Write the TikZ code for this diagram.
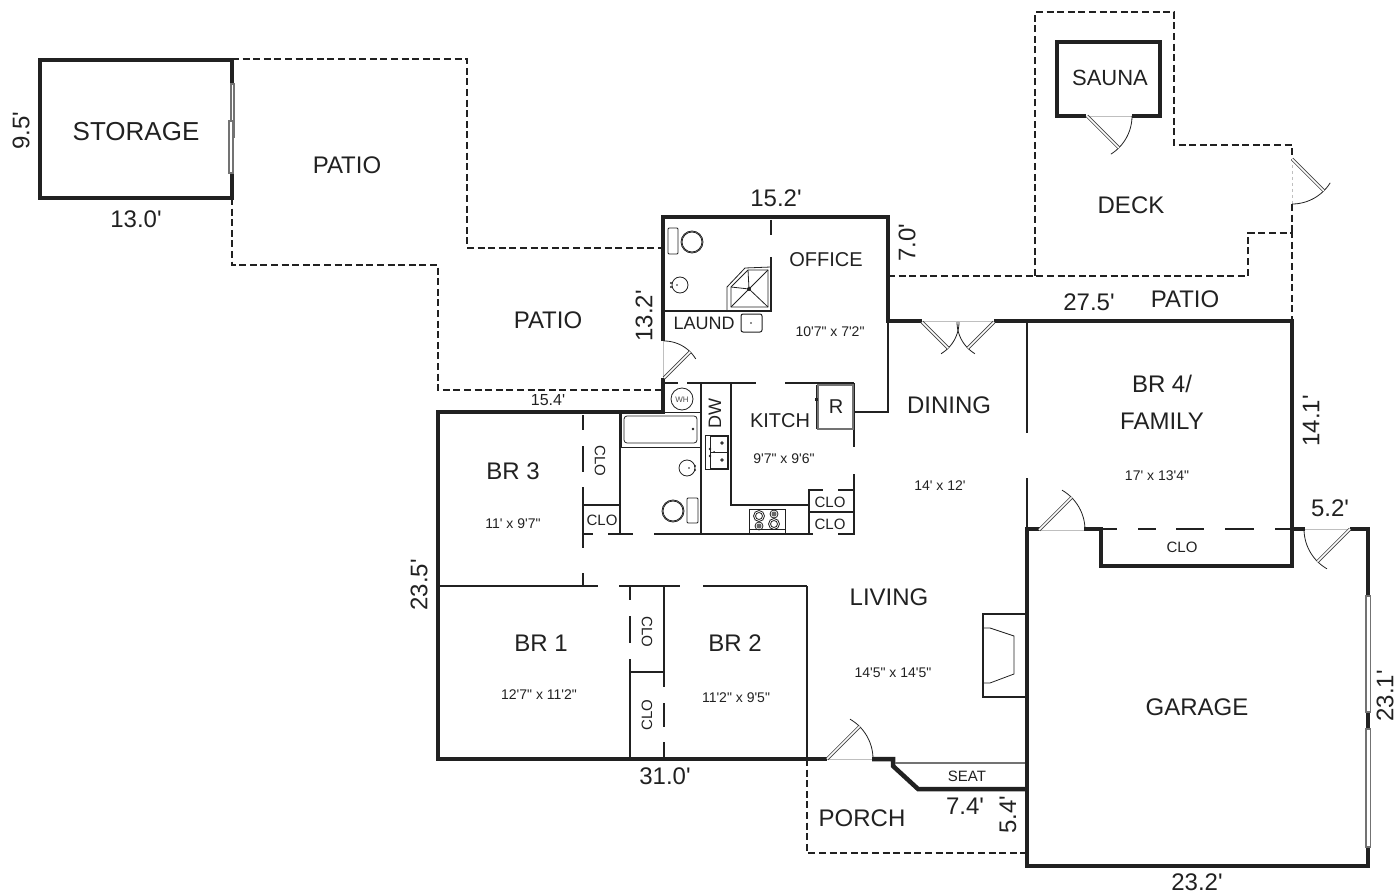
\documentclass[tikz,border=0pt]{standalone}
\usepackage{fontspec}
\newfontfamily\planfont{Liberation Sans}
\AtBeginDocument{\planfont}
\usepackage{xcolor}
\usetikzlibrary{calc}

\definecolor{inkblack}{gray}{0.13}
\tikzset{
  thickwall/.style={draw=inkblack, line width=4.5pt, line join=miter},
  thinwall/.style={draw=inkblack, line width=2.6pt},
  hairwall/.style={draw=inkblack, line width=1.1pt},
  fixture/.style={draw=inkblack, line width=0.8pt},
  outdoor/.style={draw=inkblack, line width=2.4pt, dash pattern=on 7pt off 3.6pt},
  leaf/.style={draw=black!75, line width=0.8pt, double=white, double distance=1.6pt},
  sill/.style={draw=black!25, line width=0.8pt},
  glazing/.style={draw=black!55, line width=1.2pt, fill=white},
  roomname/.style={text=inkblack, font=\fontsize{24}{28}\selectfont},
  sizetext/.style={text=inkblack, font=\fontsize{14}{17}\selectfont},
  clotext/.style={text=inkblack, font=\fontsize{15}{18}\selectfont}
}
% hinge x, hinge y, leaf angle, arc start, arc end, radius
\newcommand{\doorswing}[6]{
  \draw[fixture] plot[domain=#4:#5, samples=24, smooth] ({#1+#6*cos(\x)},{#2+#6*sin(\x)});
  \draw[leaf] (#1,#2) -- ++(#3:#6);
}

\begin{document}
\begin{tikzpicture}[x=1pt, y=-1pt]
    \useasboundingbox (0,0) rectangle (1398,896);

    % Outdoor areas
    \draw[outdoor] (232,59) -- (467,59) -- (467,248) -- (663,248);
    \draw[outdoor] (232,198) -- (232,265) -- (438,265) -- (438,390) -- (663,390);
    \draw[outdoor] (888,276) -- (1248,276) -- (1248,233) -- (1292,233) -- (1292,321);
    \draw[outdoor] (1035,276) -- (1035,12) -- (1174,12) -- (1174,145) -- (1292,145) -- (1292,159);
    \draw[outdoor] (1292,204) -- (1292,233);
    \draw[outdoor] (807,759) -- (807,853) -- (1027,853);

    % Storage
    \draw[thickwall] (40,60) rectangle (232,198);
    \draw[glazing] (231,84) rectangle (234,137);
    \draw[glazing] (229,121) rectangle (233,173);

    % Sauna
    \draw[thickwall] (1086,116) -- (1057,116) -- (1057,42) -- (1160,42) -- (1160,116) -- (1132,116);

    % Outer walls
    \draw[thickwall] (663,341) -- (663,217) -- (888,217) -- (888,276);
    \draw[thickwall] (888,276) -- (888,321) -- (922,321);
    \draw[thickwall] (994,321) -- (1292,321) -- (1292,566) -- (1101,566) -- (1101,529) -- (1084,529);
    \draw[thickwall] (1040,529) -- (1027,529) -- (1027,866) -- (1368,866) -- (1368,847);
    \draw[thickwall] (1368,596) -- (1368,529) -- (1350,529);
    \draw[thickwall] (1305,529) -- (1292,529);
    \draw[thickwall] (663,378) -- (663,412) -- (438,412) -- (438,759) -- (827,759);
    \draw[thickwall] (872,759) -- (893,759) -- (893,766) -- (918,789) -- (1027,789);
    \draw[thickwall] (1368,712) -- (1368,729);

    % Garage windows
    \draw[glazing] (1366,596) rectangle (1370.5,712);
    \draw[glazing] (1366,729) rectangle (1370.5,847);

    % Closet front at garage
    \foreach \xa/\xb in {1103/1117,1138/1156,1176/1204,1225/1254,1275/1292}
        \draw[thinwall] (\xa,529) -- (\xb,529);

    % Inner walls
    \foreach \xa/\xb in {665/678,687/756,785/854}
        \draw[thinwall] (\xa,383) -- (\xb,383);
    \foreach \xa/\xb in {583/593,608/633,654/813,838/854}
        \draw[thinwall] (\xa,534) -- (\xb,534);
    \foreach \xa/\xb in {438/598,619/680,703/807}
        \draw[thinwall] (\xa,586) -- (\xb,586);
    \foreach \ya/\yb in {415/430,446/472,487/548,573/586}
        \draw[thinwall] (583,\ya) -- (583,\yb);
    \foreach \ya/\yb in {586/600,616/643,659/759}
        \draw[thinwall] (630,\ya) -- (630,\yb);
    \foreach \ya/\yb in {586/687,703/727,742/759}
        \draw[thinwall] (664,\ya) -- (664,\yb);
    \draw[thinwall] (630,672) -- (664,672);
    \draw[thinwall] (807,586) -- (807,759);
    \draw[thinwall] (771,220) -- (771,235);
    \draw[thinwall] (771,257) -- (771,311) -- (664,311);
    \draw[thinwall] (888,321) -- (888,412) -- (854,412);
    \draw[thinwall] (854,383) -- (854,447);
    \draw[thinwall] (854,474) -- (854,535);
    \draw[thinwall] (620,412) -- (620,534);
    \draw[thinwall] (583,505) -- (620,505);
    \draw[thinwall] (701,383) -- (701,534);
    \draw[thinwall] (731,383) -- (731,505) -- (809,505);
    \draw[thinwall] (809,534) -- (809,490) -- (823,490);
    \draw[thinwall] (838,490) -- (854,490);
    \draw[thinwall] (809,512) -- (854,512);
    \draw[thinwall] (1027,321) -- (1027,433);
    \draw[thinwall] (1027,478) -- (1027,530);
    \draw[sill, line width=1.2pt, draw=black!55] (895,763) -- (1025,763);

    % Fireplace
    \draw[hairwall] (1027,614) -- (983,614) -- (983,697) -- (1027,697);
    \draw[fixture] (983,628) -- (990,628) -- (1014,636) -- (1014,674) -- (990,683) -- (983,683);

    % Doors
    \draw[sill] (1087,116) -- (1132,116);
    \doorswing{1087}{116}{45}{0}{58}{45}
    \draw[sill, dashed] (1292,159) -- (1292,204);
    \doorswing{1292}{159}{45}{90}{32}{45}
    \draw[sill] (663,341) -- (663,378);
    \doorswing{664}{378}{-45}{-90}{-31}{37}
    \draw[sill] (922,321) -- (994,321);
    \doorswing{922}{322}{45}{0}{59}{37}
    \doorswing{994}{322}{135}{180}{121}{37}
    \draw[sill] (1040,530) -- (1084,530);
    \doorswing{1039}{530}{-45}{0}{-60}{46}
    \draw[sill] (1305,529) -- (1350,529);
    \doorswing{1350}{529}{135}{180}{120}{46}
    \draw[sill] (827,759) -- (872,759);
    \doorswing{827}{759}{-45}{0}{-60}{46}

    % Office bath
    \draw[fixture, rounded corners=1pt] (668,228) rectangle (678,254);
    \draw[fixture] (692,242) circle (11);
    \draw[fixture] (692,242) circle (10);
    \draw[fixture] (680,285) circle (8);
    \fill[inkblack] (671,283) circle (1.2) (671,287) circle (1.2) (677,285) circle (0.8);
    \draw[fixture] (748,270) -- (768,270) -- (768,307) -- (731,307) -- (731,287) -- cycle;
    \draw[fixture] (727,311) -- (727,287) -- (745,268) -- (771,267);
    \draw[fixture] (731,307) -- (768,270);
    \draw[fixture] (748,270) -- (749,289) -- (768,307);
    \draw[fixture] (731,287) -- (749,289);
    \fill[inkblack] (749,289) circle (2);
    \draw[fixture, rounded corners=2pt, line width=1pt] (741,314) rectangle (762,332);
    \fill[inkblack] (751,323) circle (0.9);

    % Water heater
    \draw[fixture] (682,399) circle (11);
    \node[text=black!70, font=\fontsize{8}{9}\selectfont] (wh) at (682,400) {WH};

    % Hall bath
    \draw[fixture] (621,412) rectangle (701,447);
    \draw[fixture, rounded corners=3pt] (624,416) rectangle (697,443);
    \fill[inkblack] (693,429) circle (1.4);
    \draw[fixture] (687,468) circle (8);
    \fill[inkblack] (695,466) circle (1.2) (695,470) circle (1.2) (689,468) circle (0.8);
    \draw[fixture, rounded corners=1pt] (687,498) rectangle (698,523);
    \draw[fixture] (673,511) circle (11);
    \draw[fixture] (673,511) circle (10);

    % Kitchen
    \draw[fixture] (705,435) rectangle (728,469);
    \draw[fixture] (710,436) rectangle (727,452);
    \draw[fixture] (710,452) rectangle (727,468);
    \fill[inkblack] (710,449) circle (1.4) (710,456) circle (1.4) (714,452) circle (1);
    \draw[fixture] (722,443) circle (1.2);
    \draw[fixture] (722,460) circle (1.2);
    \draw[fixture] (749,509) rectangle (785,533);
    \draw[fixture] (749,529) -- (785,529);
    \foreach \px/\py/\rad in {759/516/5.5,774/524/5.5} {
        \draw[fixture] (\px,\py) circle (\rad);
        \draw[fixture] (\px,\py) circle (\rad-2);
    }
    \foreach \px/\py in {774/514,759/526} {
        \draw[fixture] (\px,\py) circle (4);
        \fill[black!60] (\px,\py) circle (2.5);
    }
    \draw[fixture, line width=1.1pt, draw=black!55] (818,385) rectangle (853,429);
    \draw[fixture] (816,385) -- (816,429);
    \fill[inkblack] (815,398) rectangle (818,401);

    % Labels outside
    \node[roomname, rotate=90] (dimstoragea) at (21,131) {9.5'};
    \node[text=inkblack, font=\fontsize{26}{30}\selectfont] (storage) at (136,132) {STORAGE};
    \node[roomname] (dimstorageb) at (136,219) {13.0'};
    \node[roomname] (patioa) at (347,165) {PATIO};
    \node[roomname] (patiob) at (548,320) {PATIO};
    \node[roomname] (patioc) at (1185,299) {PATIO};
    \node[roomname] (dimoffice) at (776,198) {15.2'};
    \node[roomname, rotate=90] (dimofficeb) at (907,243) {7.0'};
    \node[roomname, rotate=90] (dimlaund) at (644,316) {13.2'};
    \node[text=inkblack, font=\fontsize{16}{19}\selectfont] (dimpatio) at (548,400) {15.4'};
    \node[roomname] (dimfamilya) at (1089,302) {27.5'};
    \node[roomname, rotate=90] (dimfamilyb) at (1311,421) {14.1'};
    \node[roomname] (dimgaragea) at (1330,508) {5.2'};
    \node[roomname, rotate=90] (dimgarageb) at (1385,696) {23.1'};
    \node[roomname] (dimgaragec) at (1197,882) {23.2'};
    \node[roomname, rotate=90] (dimhouse) at (419,585) {23.5'};
    \node[roomname] (dimfront) at (665,776) {31.0'};
    \node[roomname] (dimporcha) at (965,806) {7.4'};
    \node[roomname, rotate=90] (dimporchb) at (1008,815) {5.4'};

    % Labels inside
    \node[text=inkblack, font=\fontsize{22}{26}\selectfont] (sauna) at (1110,78) {SAUNA};
    \node[roomname] (deck) at (1131,205) {DECK};
    \node[text=inkblack, font=\fontsize{20}{24}\selectfont] (office) at (826,260) {OFFICE};
    \node[sizetext] (sizeoffice) at (830,332) {10'7" x 7'2"};
    \node[text=inkblack, font=\fontsize{18}{22}\selectfont] (laund) at (704,323) {LAUND};
    \node[text=inkblack, font=\fontsize{18}{22}\selectfont, rotate=90] (dw) at (715,414) {DW};
    \node[text=inkblack, font=\fontsize{20}{24}\selectfont] (kitch) at (780,421) {KITCH};
    \node[sizetext] (sizekitch) at (784,459) {9'7" x 9'6"};
    \node[text=inkblack, font=\fontsize{20}{24}\selectfont] (fridge) at (836,407) {R};
    \node[roomname] (dining) at (949,405) {DINING};
    \node[sizetext] (sizedining) at (940,486) {14' x 12'};
    \node[roomname] (familya) at (1162,384) {BR 4/};
    \node[roomname] (familyb) at (1162,421) {FAMILY};
    \node[sizetext] (sizefamily) at (1157,476) {17' x 13'4"};
    \node[roomname] (brthree) at (513,471) {BR 3};
    \node[sizetext] (sizebrthree) at (513,524) {11' x 9'7"};
    \node[roomname] (brone) at (541,643) {BR 1};
    \node[sizetext] (sizebrone) at (539,695) {12'7" x 11'2"};
    \node[roomname] (brtwo) at (735,643) {BR 2};
    \node[sizetext] (sizebrtwo) at (736,698) {11'2" x 9'5"};
    \node[roomname] (living) at (889,597) {LIVING};
    \node[sizetext] (sizeliving) at (893,673) {14'5" x 14'5"};
    \node[roomname] (garage) at (1197,707) {GARAGE};
    \node[roomname] (porch) at (862,818) {PORCH};
    \node[clotext] (seat) at (967,776) {SEAT};
    \node[clotext, rotate=-90] (cloa) at (600,461) {CLO};
    \node[clotext] (clob) at (602,520) {CLO};
    \node[clotext] (cloc) at (830,502) {CLO};
    \node[clotext] (clod) at (830,524) {CLO};
    \node[clotext] (cloe) at (1182,547) {CLO};
    \node[clotext, rotate=-90] (clof) at (647,632) {CLO};
    \node[clotext, rotate=90] (clog) at (647,715) {CLO};
\end{tikzpicture}
\end{document}
